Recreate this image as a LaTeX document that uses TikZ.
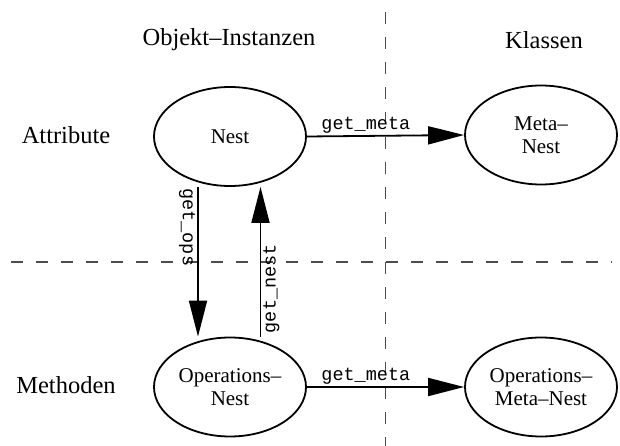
\documentclass[tikz,border=0pt]{standalone}
\usepackage{fontspec}
\setmainfont{Liberation Serif}
\setmonofont{Liberation Mono}
\usetikzlibrary{shapes.geometric,arrows.meta}
\begin{document}
\begin{tikzpicture}[x=1pt,y=-1pt,
  obj/.style={ellipse,draw,line width=1.8pt,minimum width=152pt,minimum height=99pt,inner sep=0pt,align=center,font=\fontsize{21}{23.5}\selectfont},
  hdr/.style={font=\fontsize{24.5}{27}\selectfont,inner sep=0pt},
  arr/.style={line width=1.8pt,-{Triangle[length=36pt,width=18pt]}},
  lbl/.style={font=\ttfamily\fontsize{18.5}{20}\selectfont,inner sep=2pt},
  gridline/.style={line width=1.2pt,draw=black!70,dash pattern=on 12pt off 13pt}]
\useasboundingbox (0,0) rectangle (620,446);
% dividing lines
\coordinate (vtop) at (385.5,12);
\coordinate (vbot) at (385.5,446);
\coordinate (hl) at (11,262);
\coordinate (hr) at (612,262);
\draw[gridline] (vtop) -- (vbot);
\draw[gridline] (hl) -- (hr);
% headers
\node[hdr] (hobj) at (229,40) {Objekt–Instanzen};
\node[hdr] (hkl) at (544,40) {Klassen};
\node[hdr] (hattr) at (66,135) {Attribute};
\node[hdr] (hmeth) at (66,385) {Methoden};
% nodes
\node[obj] (nest) at (230,136.5) {Nest};
\node[obj] (meta) at (541,135) {Meta–\\Nest};
\node[obj] (ops) at (230,387) {Operations–\\Nest};
\node[obj] (opsmeta) at (541,387) {Operations–\\Meta–Nest};
% connectors
\draw[arr] (nest.east) -- node[lbl,above,pos=0.375] {get\_meta} (meta.west);
\draw[arr] (ops.east) -- node[lbl,above,pos=0.375] {get\_meta} (opsmeta.west);
\draw[arr] ([xshift=-32pt]nest.south) -- node[lbl,pos=0.27,rotate=-90,below] {get\_ops} ([xshift=-32pt]ops.north);
\draw[arr] ([xshift=30.5pt]ops.north) -- node[lbl,pos=0.32,rotate=90,below] {get\_nest} ([xshift=30.5pt]nest.south);
\end{tikzpicture}
\end{document}
